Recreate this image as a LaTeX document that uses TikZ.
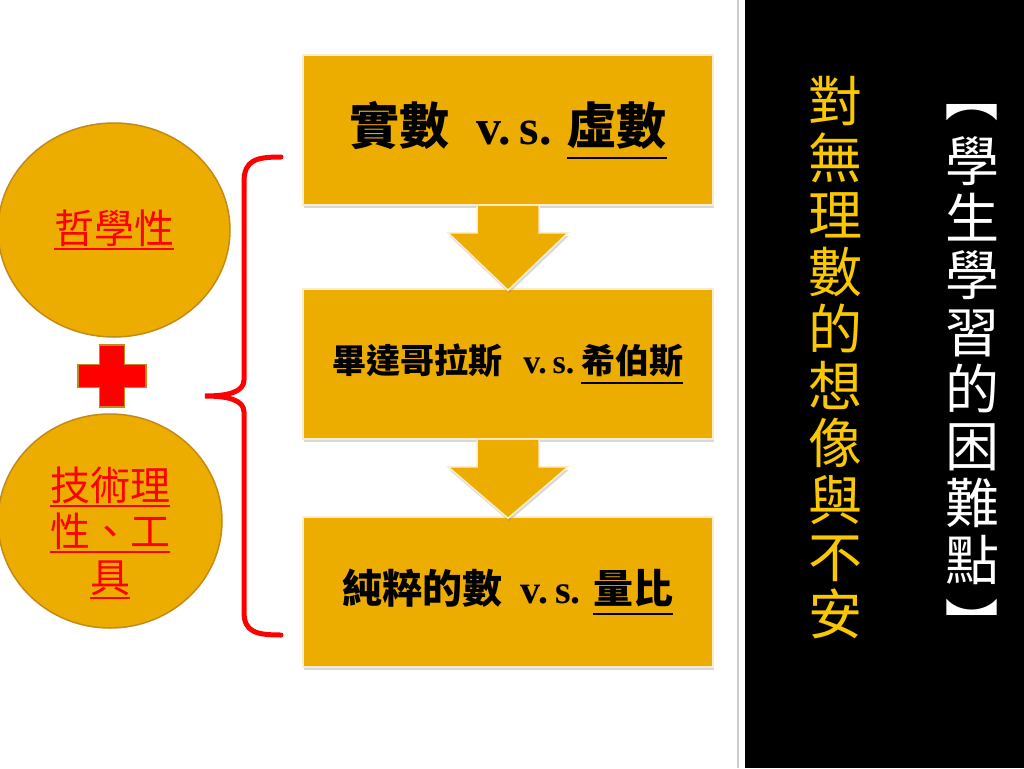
\documentclass[tikz,border=0pt]{standalone}
\usepackage{fontspec}
\usepackage{graphicx}
\setmainfont{Noto Sans CJK TC}
\newfontfamily\lat{Liberation Serif}
\usetikzlibrary{shapes.geometric,shadows,calc}
\definecolor{gold}{RGB}{237,172,0}
\definecolor{goldline}{RGB}{196,138,22}
\definecolor{txtyellow}{RGB}{250,200,0}
\newsavebox\undlbox
\newcommand\undl[2][-6pt]{\sbox\undlbox{#2}\rlap{\rule[#1]{\wd\undlbox}{2pt}}\usebox\undlbox}
\newcommand\vbrk[1]{\rotatebox[origin=c]{-90}{#1}}
\tikzset{
  stepbox/.style={rectangle,fill=gold,draw=white!80!gold,line width=1.5pt,
    minimum width=410pt,minimum height=150pt,
    drop shadow={opacity=.3,shadow xshift=1pt,shadow yshift=-3pt}},
  downarrow/.style={fill=gold,draw=white!80!gold,line width=1.5pt,
    drop shadow={opacity=.3,shadow xshift=1pt,shadow yshift=-3pt}},
  bubble/.style={ellipse,fill=gold,draw=goldline,line width=1.5pt,
    text=red,align=center,font=\fontsize{40}{46}\selectfont},
  brace/.style={red,line width=5pt,line cap=round}
}
\begin{document}
\begin{tikzpicture}[x=1pt,y=-1pt]

        \fill[white] (0,0) rectangle (1024,768);
        \useasboundingbox (0,0) rectangle (1024,768);

        \draw[black!20,line width=2pt] (738,0) -- (738,768);
        \fill[black] (745,0) rectangle (1024,768);

        \begin{scope}[every node/.style={stepbox}]
          \node[font=\fontsize{50}{54}\selectfont\bfseries] (1) at (508,130)
            {實數\hspace{.55em}{\lat v.\,s.}\hspace{.3em}\undl[-14pt]{虛數}};
          \node[font=\fontsize{34}{38}\selectfont\bfseries] (2) at (508,364)
            {畢達哥拉斯\hspace{.6em}{\lat v.\,s.}\hspace{.2em}\undl[-10pt]{希伯斯}};
          \node[font=\fontsize{40}{44}\selectfont\bfseries] (3) at (508,592)
            {純粹的數\hspace{.45em}{\lat v.\,s.}\hspace{.3em}\undl[-12pt]{量比}};
        \end{scope}

        \filldraw[downarrow] ($(1.south)+(-31,0)$) -- ++(0,27) -- ++(-29,0)
          -- ($(2.north)+(0,2)$) -- ($(1.south)+(60,27)$) -- ++(-29,0)
          -- ($(1.south)+(31,0)$);
        \filldraw[downarrow] ($(2.south)+(-31,0)$) -- ++(0,27) -- ++(-29,0)
          -- ($(3.north)+(0,2)$) -- ($(2.south)+(60,27)$) -- ++(-29,0)
          -- ($(2.south)+(31,0)$);

        \begin{scope}[every node/.style={bubble}]
          \node[minimum width=232pt,minimum height=214pt] (c1) at (114,230)
            {\undl[-6pt]{哲學性}};
          \node[minimum width=224pt,minimum height=214pt] (c2) at (110,521) {};
          \node[draw=none,fill=none] (c2t) at (110,533)
            {\undl[-6pt]{技術理}\\\undl[-6pt]{性、工}\\\undl[-6pt]{具}};
        \end{scope}

        \filldraw[fill=red,draw=goldline,line width=1.5pt,shift={(112,376)}]
          (-34,-11.5) -- (-12.5,-11.5) -- (-12.5,-31) -- (12.5,-31) -- (12.5,-11.5)
          -- (34,-11.5) -- (34,11.5) -- (12.5,11.5) -- (12.5,31) -- (-12.5,31)
          -- (-12.5,11.5) -- (-34,11.5) -- cycle;

        \draw[brace] (281,157) .. controls (256,157) and (244,160) .. (244,182)
          -- (244,380) .. controls (244,392) and (228,396) .. (205,396)
          .. controls (228,396) and (244,400) .. (244,412)
          -- (244,612) .. controls (244,632) and (256,635) .. (281,635);

        \node[text=txtyellow,align=center,font=\fontsize{54}{57}\selectfont] (v1) at (835,358)
          {對\\無\\理\\數\\的\\想\\像\\與\\不\\安};
        \node[text=white,align=center,font=\fontsize{54}{57}\selectfont] (v2) at (972,360)
          {\vbrk{【}\\[8pt]學\\生\\學\\習\\的\\困\\難\\點\\[8pt]\vbrk{】}};

      \end{tikzpicture}
\end{document}
